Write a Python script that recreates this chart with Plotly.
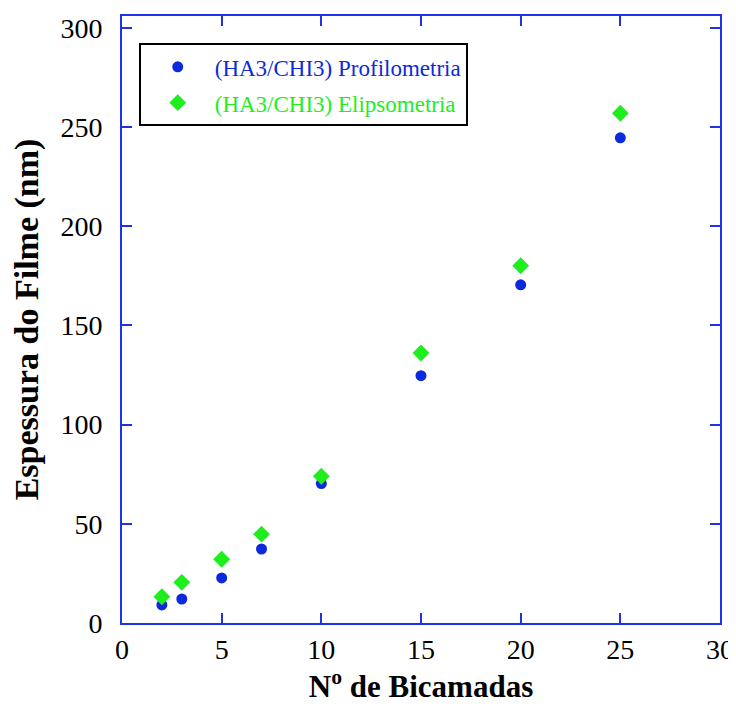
import plotly.graph_objects as go

bicamadas = [2, 3, 5, 7, 10, 15, 20, 25]
profilometria = [9.1, 12.1, 22.7, 37.3, 70.3, 124.7, 170.5, 244.6]
elipsometria = [13.2, 20.5, 32.1, 44.8, 74.0, 136.1, 180.1, 257.0]

x_ticks = [0, 5, 10, 15, 20, 25, 30]
y_ticks = [0, 50, 100, 150, 200, 250, 300]

BLUE = "rgb(12,42,220)"
AXIS_BLUE = "rgb(30,50,230)"
GREEN = "rgb(30,238,30)"
FONT = "Liberation Serif"

fig = go.Figure()
fig.add_trace(go.Scatter(
    x=bicamadas, y=profilometria, mode="markers",
    name=f"<span style='color:{BLUE}'>(HA3/CHI3) Profilometria</span>",
    legendgroup="a",
    marker=dict(symbol="circle", size=11, color=BLUE),
))
fig.add_trace(go.Scatter(
    x=bicamadas, y=elipsometria, mode="markers",
    name=f"<span style='color:{GREEN}'>(HA3/CHI3) Elipsometria</span>",
    legendgroup="b",
    marker=dict(symbol="diamond", size=13, color=GREEN),
))

axis_common = dict(
    showline=True, linecolor=AXIS_BLUE, linewidth=2, mirror="ticks",
    ticks="inside", ticklen=10, tickwidth=2, tickcolor=AXIS_BLUE,
    showgrid=False, zeroline=False, automargin=False,
    tickfont=dict(family=FONT, size=28, color="black"),
)

fig.update_xaxes(
    range=[0, 30], tickvals=x_ticks, ticktext=[str(v) for v in x_ticks],
    title=dict(text="N<sup>o</sup> de Bicamadas",
               font=dict(family=FONT, size=31, color="black", weight="bold"),
               standoff=12),
    ticklabelstandoff=0,
    **axis_common,
)
fig.update_yaxes(
    range=[0, 306], tickvals=y_ticks, ticktext=[str(v) for v in y_ticks],
    title=dict(text="Espessura do Filme (nm)",
               font=dict(family=FONT, size=34, color="black", weight="bold"),
               standoff=12),
    ticklabelstandoff=12,
    **axis_common,
)

fig.update_layout(
    width=728, height=701,
    margin=dict(l=114, r=16, t=8, b=86),
    paper_bgcolor="white", plot_bgcolor="white",
    showlegend=True,
    legend=dict(
        x=0.028, y=0.955, xanchor="left", yanchor="top",
        bgcolor="white", bordercolor="black", borderwidth=2,
        font=dict(family=FONT, size=23, color=BLUE),
        itemwidth=64, tracegroupgap=3, traceorder="grouped",
    ),
)

fig.write_html("out.html")
